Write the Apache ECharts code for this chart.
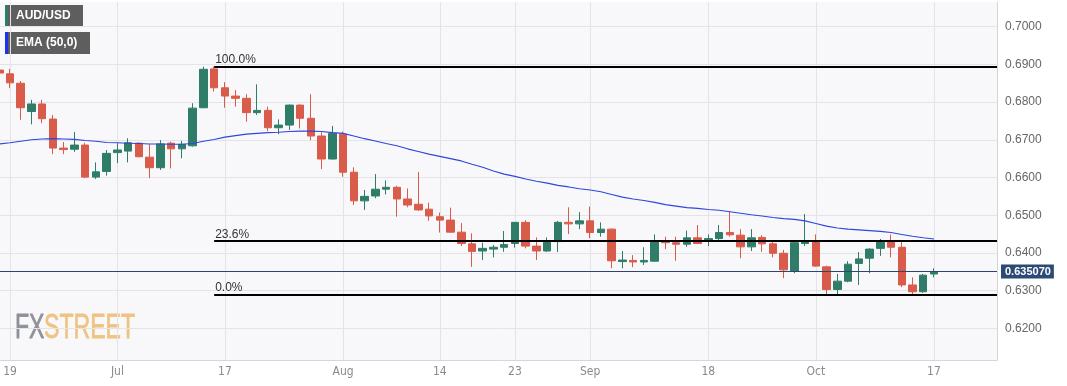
<!DOCTYPE html>
<html><head><meta charset="utf-8">
<script src="https://cdn.jsdelivr.net/npm/echarts@6/dist/echarts.min.js"></script>
<style>html,body{margin:0;padding:0;background:#fff}#c{width:1067px;height:386px}</style>
</head><body><div id="c"></div>
<script>
const dates = ['Jun 16','Jun 19','Jun 20','Jun 21','Jun 22','Jun 23','Jun 26','Jun 27','Jun 28','Jun 29','Jun 30',
'Jul 3','Jul 4','Jul 5','Jul 6','Jul 7','Jul 10','Jul 11','Jul 12','Jul 13','Jul 14','Jul 17','Jul 18','Jul 19','Jul 20','Jul 21',
'Jul 24','Jul 25','Jul 26','Jul 27','Jul 28','Jul 31','Aug 1','Aug 2','Aug 3','Aug 4','Aug 7','Aug 8','Aug 9','Aug 10','Aug 11',
'Aug 14','Aug 15','Aug 16','Aug 17','Aug 18','Aug 21','Aug 22','Aug 23','Aug 24','Aug 25','Aug 28','Aug 29','Aug 30','Aug 31',
'Sep 1','Sep 4','Sep 5','Sep 6','Sep 7','Sep 8','Sep 11','Sep 12','Sep 13','Sep 14','Sep 15','Sep 18','Sep 19','Sep 20','Sep 21',
'Sep 22','Sep 25','Sep 26','Sep 27','Sep 28','Sep 29','Oct 2','Oct 3','Oct 4','Oct 5','Oct 6','Oct 9','Oct 10','Oct 11','Oct 12',
'Oct 13','Oct 16','Oct 17'];
const open = [0.6885,0.6875,0.6850,0.6775,0.6795,0.6755,0.6678,0.6675,0.6686,0.6601,
0.6616,0.6666,0.6670,0.6691,0.6654,0.6626,0.6691,0.6676,0.6684,0.6785,
0.6888,0.6838,0.6816,0.6810,0.6772,0.6778,0.6732,0.6739,0.6792,0.6757,
0.6710,0.6649,0.6715,0.6614,0.6538,0.6551,0.6569,0.6574,0.6543,0.6529,
0.6516,0.6496,0.6487,0.6455,0.6424,0.6405,0.6410,0.6415,0.6425,0.6481,
0.6418,0.6405,0.6430,0.6481,0.6477,0.6485,0.6454,0.6463,0.6377,0.6380,
0.6376,0.6378,0.6432,0.6427,0.6423,0.6440,0.6433,0.6438,0.6454,0.6447,
0.6416,0.6441,0.6424,0.6399,0.6352,0.6425,0.6430,0.6363,0.6303,0.6325,
0.6372,0.6386,0.6412,0.6430,0.6415,0.6315,0.6297,0.6344];
const high = [0.6890,0.6888,0.6856,0.6806,0.6806,0.6766,0.6694,0.6721,0.6692,0.6640,
0.6673,0.6691,0.6704,0.6693,0.6688,0.6699,0.6695,0.6697,0.6797,0.6894,
0.6894,0.6853,0.6832,0.6821,0.6847,0.6788,0.6754,0.6794,0.6794,0.6821,
0.6720,0.6737,0.6722,0.6627,0.6567,0.6609,0.6592,0.6578,0.6571,0.6615,
0.6533,0.6507,0.6520,0.6479,0.6452,0.6427,0.6421,0.6458,0.6482,0.6487,
0.6441,0.6441,0.6485,0.6521,0.6508,0.6523,0.6481,0.6465,0.6405,0.6394,
0.6415,0.6449,0.6443,0.6443,0.6459,0.6474,0.6449,0.6474,0.6509,0.6463,
0.6463,0.6447,0.6430,0.6408,0.6430,0.6503,0.6449,0.6366,0.6344,0.6378,
0.6402,0.6412,0.6437,0.6449,0.6430,0.6335,0.6344,0.6359];
const low = [0.6869,0.6837,0.6753,0.6741,0.6744,0.6662,0.6662,0.6668,0.6598,0.6596,
0.6605,0.6638,0.6640,0.6654,0.6598,0.6620,0.6624,0.6651,0.6682,0.6784,
0.6828,0.6785,0.6788,0.6748,0.6766,0.6723,0.6715,0.6726,0.6730,0.6699,
0.6622,0.6648,0.6602,0.6527,0.6514,0.6545,0.6555,0.6496,0.6521,0.6512,
0.6485,0.6454,0.6454,0.6418,0.6363,0.6381,0.6388,0.6403,0.6414,0.6412,
0.6381,0.6403,0.6402,0.6450,0.6463,0.6439,0.6443,0.6359,0.6359,0.6362,
0.6368,0.6377,0.6410,0.6379,0.6416,0.6424,0.6418,0.6430,0.6443,0.6386,
0.6405,0.6403,0.6388,0.6333,0.6346,0.6418,0.6363,0.6288,0.6290,0.6322,
0.6315,0.6346,0.6392,0.6388,0.6309,0.6290,0.6294,0.6335];
const close = [0.6877,0.6851,0.6785,0.6795,0.6756,0.6678,0.6674,0.6686,0.6601,0.6615,
0.6664,0.6673,0.6692,0.6655,0.6626,0.6689,0.6676,0.6688,0.6784,0.6887,
0.6838,0.6816,0.6810,0.6772,0.6778,0.6732,0.6739,0.6792,0.6757,0.6710,
0.6649,0.6717,0.6614,0.6538,0.6550,0.6569,0.6574,0.6543,0.6527,0.6514,
0.6498,0.6487,0.6455,0.6425,0.6404,0.6412,0.6415,0.6422,0.6481,0.6418,
0.6405,0.6430,0.6481,0.6477,0.6485,0.6454,0.6463,0.6379,0.6381,0.6376,
0.6380,0.6430,0.6427,0.6423,0.6440,0.6425,0.6438,0.6454,0.6448,0.6416,
0.6440,0.6424,0.6399,0.6355,0.6427,0.6430,0.6365,0.6303,0.6325,0.6370,
0.6384,0.6410,0.6430,0.6415,0.6315,0.6297,0.6341,0.63507];
const ema50 = [0.6689,0.6692,0.6696,0.6700,0.6702,0.6703,0.6702,0.6701,0.6698,0.6696,
0.6693,0.6692,0.6691,0.6690,0.6689,0.6689,0.6688,0.6688,0.6690,0.6696,
0.6701,0.6707,0.6711,0.6715,0.6717,0.6719,0.6720,0.6722,0.6723,0.6723,
0.6722,0.6719,0.6717,0.6710,0.6703,0.6697,0.6690,0.6684,0.6676,0.6669,
0.6662,0.6656,0.6650,0.6644,0.6635,0.6627,0.6617,0.6609,0.6603,0.6596,
0.6590,0.6585,0.6579,0.6575,0.6570,0.6567,0.6562,0.6555,0.6548,0.6543,
0.6539,0.6534,0.6528,0.6524,0.6520,0.6518,0.6515,0.6513,0.6509,0.6505,
0.6501,0.6498,0.6494,0.6491,0.6489,0.6485,0.6478,0.6471,0.6466,0.6463,
0.6461,0.6459,0.6457,0.6454,0.6449,0.6444,0.6440,0.6437];
const xTickDates = ['Jun 19','Jul 3','Jul 17','Aug 1','Aug 14','Aug 23','Sep 1','Sep 18','Oct 2','Oct 17'];
const xTickLabels = ['19','Jul','17','Aug','14','23','Sep','18','Oct','17'];
const yTickLabels = ['0.6200','0.6300','0.6400','0.6500','0.6600','0.6700','0.6800','0.6900','0.7000'];
const fibLevels = [1.0, 0.236, 0.0];
const fibStartDate = 'Jul 14';

const X_MIN = 0.069, X_MAX = 92.865;
const Y_MIN = 0.61159, Y_MAX = 0.70655;
const GREEN = '#2f7d69', RED = '#d95b4a';
const FONT = 'Liberation Sans, Arial, sans-serif';

const candles = dates.map((d, i) => [i, open[i], close[i], low[i], high[i]]);
const emaData = dates.map((d, i) => [i, ema50[i]]);
const xTickIdx = xTickDates.map(d => dates.indexOf(d));
const yTicks = yTickLabels.map(Number);
const fHigh = Math.max(...high), fLow = Math.min(...low);
const fibStart = dates.indexOf(fibStartDate);
const lastClose = close[close.length - 1];

const fibLines = fibLevels.map(l => {
  const v = fLow + l * (fHigh - fLow);
  return [
    {coord: [fibStart, v], lineStyle: {color: '#000', width: 2, type: 'solid'},
     label: {show: true, position: 'insideStartTop', formatter: (l * 100).toFixed(1) + '%',
             color: '#333', fontSize: 12, fontFamily: FONT, distance: [1, 1]}},
    {coord: [X_MAX, v]}
  ];
});
const priceLine = [
  {coord: [X_MIN, lastClose], lineStyle: {color: '#2b4672', width: 1, type: 'solid'},
   label: {show: true, position: 'end', formatter: lastClose.toFixed(6), color: '#fff',
           backgroundColor: '#2c4a76', fontWeight: 'bold', fontSize: 11, padding: [2, 3, 1, 4],
           distance: 4, fontFamily: FONT}},
  {coord: [X_MAX, lastClose]}
];

const chart = echarts.init(document.getElementById('c'), null, {renderer: 'canvas'});
chart.setOption({
  animation: false,
  backgroundColor: '#ffffff',
  grid: {left: 0, right: 70, top: 2, bottom: 26, show: true, backgroundColor: '#f8f8fa', borderWidth: 0},
  xAxis: {
    type: 'value', min: X_MIN, max: X_MAX,
    axisLine: {show: true, onZero: false, lineStyle: {color: '#d6d6da'}},
    axisTick: {show: false, customValues: xTickIdx},
    splitLine: {show: true, lineStyle: {color: '#e4e4e8', width: 1}},
    axisLabel: {
      customValues: xTickIdx,
      formatter: v => { const j = xTickIdx.indexOf(Math.round(v)); return j >= 0 ? xTickLabels[j] : ''; },
      color: '#8a8a8a', fontSize: 12, margin: 6,
      fontFamily: "'Liberation Sans Narrow', 'DejaVu Sans Condensed', sans-serif"
    }
  },
  yAxis: {
    type: 'value', position: 'right', min: Y_MIN, max: Y_MAX, scale: true,
    axisLine: {show: true, onZero: false, lineStyle: {color: '#d6d6da'}},
    axisTick: {show: false, customValues: yTicks},
    splitLine: {show: true, lineStyle: {color: '#e4e4e8', width: 1}},
    axisLabel: {
      customValues: yTicks,
      formatter: v => v.toFixed(4),
      color: '#666', fontSize: 12, margin: 8, fontFamily: FONT
    }
  },
  series: [
    {
      type: 'candlestick', data: candles, barWidth: 8,
      itemStyle: {color: GREEN, color0: RED, borderColor: GREEN, borderColor0: RED, borderWidth: 1},
      markLine: {
        silent: true, symbol: ['none', 'none'], animation: false,
        data: [...fibLines, priceLine]
      }
    },
    {
      type: 'line', data: emaData, showSymbol: false, symbol: 'none',
      lineStyle: {color: '#2f45db', width: 1.1}, z: 3
    }
  ],
  graphic: [
    {type: 'rect', left: 5, top: 5, shape: {width: 78, height: 22}, style: {fill: '#5e5e5e'}},
    {type: 'rect', left: 5, top: 5, shape: {width: 3, height: 22}, style: {fill: GREEN}},
    {type: 'text', left: 16, top: 10, style: {text: 'AUD/USD', fill: '#fff', font: 'bold 12px ' + FONT}},
    {type: 'rect', left: 5, top: 32, shape: {width: 85, height: 22}, style: {fill: '#5e5e5e'}},
    {type: 'rect', left: 5, top: 32, shape: {width: 3, height: 22}, style: {fill: '#1f2ff0'}},
    {type: 'text', left: 16, top: 37, style: {text: 'EMA (50,0)', fill: '#fff', font: 'bold 12px ' + FONT}},
    {type: 'text', x: 15, y: 311, scaleX: 0.66, style: {text: 'FX', fill: '#8e9197', stroke: '#8e9197', lineWidth: 0.8, font: '35px ' + FONT}},
    {type: 'text', x: 44, y: 311, scaleX: 0.66, style: {text: 'STREET', fill: '#efc382', stroke: '#efc382', lineWidth: 0.8, font: '35px ' + FONT}}
  ]
});
</script>
</body></html>
